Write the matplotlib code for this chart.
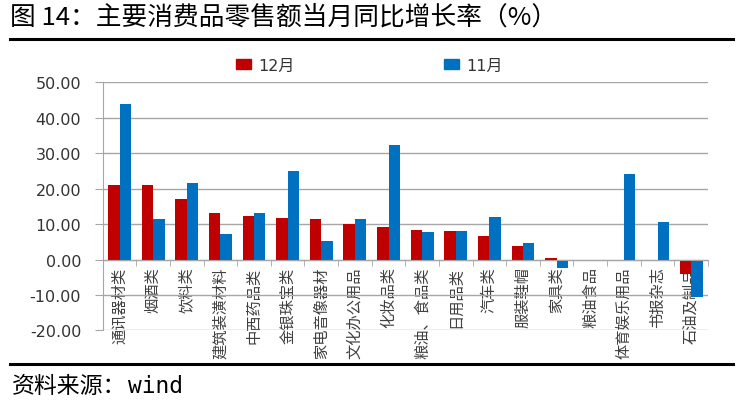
import matplotlib.pyplot as plt
import numpy as np
from matplotlib.lines import Line2D
from matplotlib.patches import Patch
from matplotlib.ticker import FuncFormatter, MultipleLocator, FixedLocator

plt.rcParams['font.family'] = ['DejaVu Sans', 'Noto Sans CJK SC']

categories = ['通讯器材类', '烟酒类', '饮料类', '建筑装潢材料', '中西药品类',
              '金银珠宝类', '家电音像器材', '文化办公用品', '化妆品类',
              '粮油、食品类', '日用品类', '汽车类', '服装鞋帽', '家具类',
              '粮油食品', '体育娱乐用品', '书报杂志', '石油及制品']
dec = [21.0, 21.0, 17.2, 13.0, 12.2, 11.8, 11.3, 9.9, 9.1,
       8.3, 8.1, 6.5, 3.8, 0.4, np.nan, np.nan, np.nan, -4.1]
nov = [43.9, 11.5, 21.6, 7.1, 13.0, 24.9, 5.1, 11.3, 32.4,
       7.7, 8.1, 12.0, 4.7, -2.5, np.nan, 24.1, 10.7, -10.5]
series_names = ['12月', '11月']
colors = ['#C00000', '#0070C0']

fig = plt.figure(figsize=(7.46, 4.14), dpi=100)
ax = fig.add_axes([0.1377, 0.1995, 0.8113, 0.5993])

x = np.arange(len(categories))
w = 0.34
ax.bar(x - w / 2, dec, w, color=colors[0], zorder=3)
ax.bar(x + w / 2, nov, w, color=colors[1], zorder=3)

ax.set_xlim(-0.5, len(categories) - 0.5)
ax.set_ylim(-20, 50)
ax.yaxis.set_major_locator(MultipleLocator(10))
ax.yaxis.set_major_formatter(FuncFormatter(lambda v, p: f'{v:.2f}'))
ax.grid(axis='y', color='#a6a6a6', lw=1.0, zorder=0)

grey = '#a6a6a6'
for s in ['top', 'right']:
    ax.spines[s].set_visible(False)
ax.spines['left'].set_color(grey)
ax.spines['bottom'].set_color(grey)
ax.spines['bottom'].set_position(('data', 0))
ax.spines['bottom'].set_zorder(4)

ax.set_xticks(x)
ax.set_xticklabels(categories, rotation=90, family='Noto Sans CJK SC',
                   fontsize=11, color='#404040')
ax.xaxis.set_minor_locator(FixedLocator(np.arange(-0.5, len(categories), 1)))
ax.tick_params(axis='x', which='major', length=0, pad=5)
ax.tick_params(axis='x', which='minor', length=4, color=grey, direction='out')
ax.tick_params(axis='y', length=5.5, color=grey, pad=10, labelsize=11.5,
               labelcolor='#333333')

handles = [Patch(color=c, label=n) for c, n in zip(colors, series_names)]
fig.legend(handles=handles, loc='center', bbox_to_anchor=(0.495, 0.8406),
           ncol=2, frameon=False, fontsize=11.5, columnspacing=9.4,
           handlelength=0.9, handleheight=0.65, handletextpad=0.45,
           labelcolor='#333333')

fig.text(0.014, 0.957, '图 14：主要消费品零售额当月同比增长率（%）',
         family=['Noto Sans CJK SC', 'DejaVu Sans'], fontsize=18.5,
         va='center', ha='left')
fig.add_artist(Line2D([10 / 746, 733 / 746], [1 - 40 / 414, 1 - 40 / 414],
                      color='black', lw=2.2, transform=fig.transFigure))
fig.add_artist(Line2D([10 / 746, 733 / 746], [1 - 365 / 414, 1 - 365 / 414],
                      color='black', lw=2.2, transform=fig.transFigure))
fig.text(0.016, 1 - 387 / 414, '资料来源：',
         family=['Noto Sans CJK SC', 'DejaVu Sans'], fontsize=16.5,
         va='center', ha='left')
fig.text(0.171, 1 - 387 / 414, 'wind', family='DejaVu Sans Mono',
         fontsize=16.5, va='center', ha='left')

fig.savefig('out.png', dpi=100)
